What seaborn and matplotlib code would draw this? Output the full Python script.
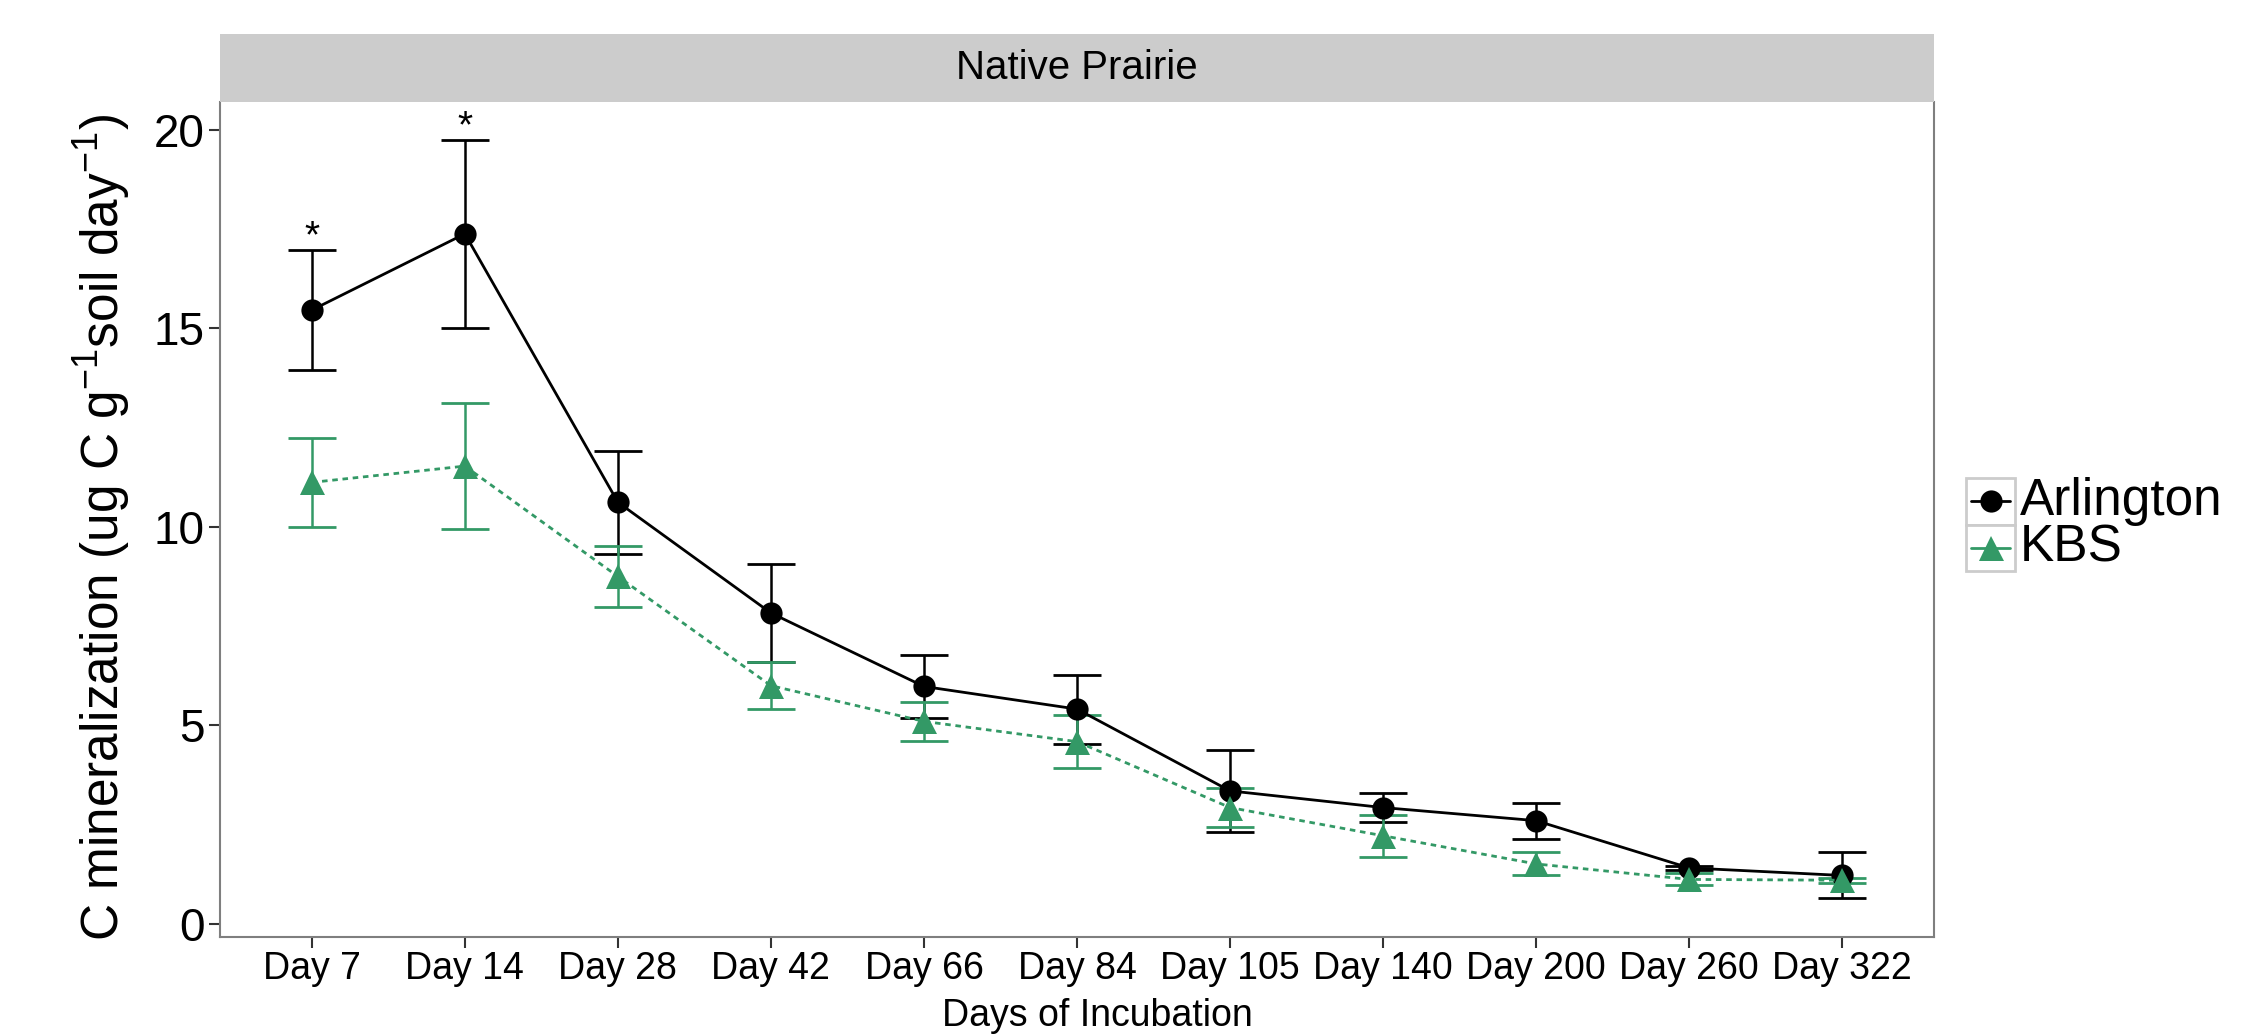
import matplotlib
matplotlib.use("Agg")
import matplotlib.pyplot as plt
import seaborn as sns
import numpy as np
import pandas as pd
from matplotlib.patches import Rectangle

# Data (mean +/- SE)
days = ["Day 7", "Day 14", "Day 28", "Day 42", "Day 66", "Day 84",
        "Day 105", "Day 140", "Day 200", "Day 260", "Day 322"]
arlington_mean = [15.46, 17.38, 10.62, 7.83, 5.98, 5.41, 3.35, 2.93, 2.60, 1.41, 1.22]
arlington_se = [1.52, 2.37, 1.30, 1.24, 0.79, 0.87, 1.03, 0.36, 0.45, 0.06, 0.58]
kbs_mean = [11.12, 11.53, 8.75, 6.00, 5.10, 4.59, 2.93, 2.22, 1.51, 1.12, 1.10]
kbs_se = [1.12, 1.58, 0.76, 0.60, 0.49, 0.67, 0.49, 0.53, 0.29, 0.15, 0.06]
sig_days = ["Day 7", "Day 14"]
sites = ["Arlington", "KBS"]

sns.set_style("ticks")
plt.rcParams['font.family'] = ['Liberation Sans', 'DejaVu Sans']
plt.rcParams['mathtext.fontset'] = 'custom'
plt.rcParams['mathtext.rm'] = 'Liberation Sans'
plt.rcParams['mathtext.it'] = 'Liberation Sans:italic'
plt.rcParams['text.color'] = 'black'
plt.rcParams['axes.labelcolor'] = 'black'
plt.rcParams['xtick.color'] = 'black'
plt.rcParams['ytick.color'] = 'black'

n = len(days)
df = pd.DataFrame({
    "day": days * 2,
    "pos": list(range(n)) * 2,
    "site": ["Arlington"] * n + ["KBS"] * n,
    "mean": arlington_mean + kbs_mean,
    "se": arlington_se + kbs_se,
})

styles = {
    "Arlington": dict(color="black", marker="o", ms=16, ls="-"),
    "KBS": dict(color="#339966", marker="^", ms=18, ls=(0, (2.0, 1.7))),
}

W, H = 2250, 1035


def px(x0, y0, x1, y1):
    return [x0 / W, 1 - y1 / H, (x1 - x0) / W, (y1 - y0) / H]


fig = plt.figure(figsize=(22.5, 10.35), dpi=100)
ax = fig.add_axes(px(220, 102, 1934, 937))

for site in sites:
    st = styles[site]
    sub = df[df["site"] == site]
    ax.errorbar(sub["pos"], sub["mean"], yerr=sub["se"], fmt="none",
                ecolor=st["color"], elinewidth=1.8, capsize=17, capthick=2.0,
                zorder=2)
    sns.lineplot(data=sub, x="pos", y="mean", ax=ax, color=st["color"],
                 marker=st["marker"], markersize=st["ms"], markeredgewidth=0,
                 linewidth=2.0, linestyle=st["ls"], errorbar=None,
                 legend=False, zorder=3)

# significance asterisks
for d in sig_days:
    i = days.index(d)
    ax.text(i, arlington_mean[i] + arlington_se[i] + 0.3, "*",
            ha="center", va="center", fontsize=28)

ax.set_xlim(-0.6, n - 0.4)
ax.set_ylim(-0.33, 20.7)
ax.set_xticks(range(n), days)
ax.set_yticks([0, 5, 10, 15, 20])
ax.tick_params(axis="x", labelsize=27, length=8, width=1.5, color="#333333", pad=2)
ax.tick_params(axis="y", labelsize=33, length=8, width=1.5, color="#333333", pad=3)
for s in ["left", "bottom", "right"]:
    ax.spines[s].set_color("#7F7F7F")
    ax.spines[s].set_linewidth(1.5)
ax.spines["top"].set_visible(False)

ax.set_xlabel("Days of Incubation", fontsize=27)
ax.xaxis.set_label_coords(0.512, -0.073)
ax.set_ylabel(r"C mineralization (ug C g$^{-1}$soil day$^{-1}$)", fontsize=37)
ax.yaxis.set_label_coords(-0.051, 0.49)

# facet strip
sax = fig.add_axes(px(220, 34, 1934, 102))
sax.set_facecolor("#CCCCCC")
sax.set_xticks([])
sax.set_yticks([])
for s in sax.spines.values():
    s.set_visible(False)
sax.text(0.5, 0.5, "Native Prairie", ha="center", va="center", fontsize=29,
         transform=sax.transAxes)

# legend
lax = fig.add_axes(px(1966, 478, 2015, 571))
lax.set_xlim(0, 1)
lax.set_ylim(0, 2)
lax.axis("off")
for k, site in enumerate(sites):
    st = styles[site]
    y0 = 1 - k
    lax.add_patch(Rectangle((0, y0), 1, 1, facecolor="white",
                            edgecolor="#CCCCCC", lw=2, clip_on=False))
    lax.plot([0.1, 0.9], [y0 + 0.5] * 2, color=st["color"], lw=2.0)
    lax.plot([0.5], [y0 + 0.5], color=st["color"], marker=st["marker"],
             ms=st["ms"], markeredgewidth=0)
    lax.text(1.1, y0 + 0.5, site, ha="left", va="center", fontsize=37)

fig.savefig("out.png", dpi=100)
